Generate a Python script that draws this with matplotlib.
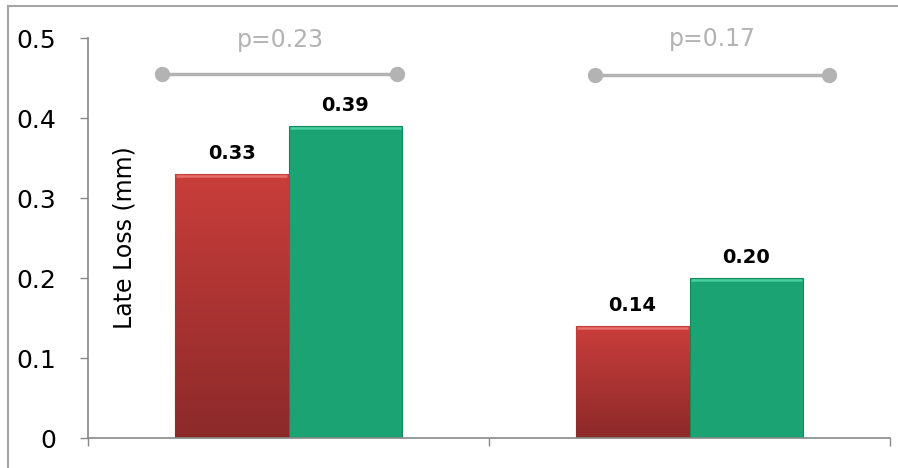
import numpy as np
import matplotlib
matplotlib.use("Agg")
import matplotlib.pyplot as plt
from matplotlib.colors import LinearSegmentedColormap
from matplotlib.lines import Line2D

# late loss per group, two bars per group
groups = ["Group A", "Group B"]
red_values = [0.33, 0.14]
green_values = [0.39, 0.20]
value_labels_red = ["0.33", "0.14"]
value_labels_green = ["0.39", "0.20"]

# p-value brackets above each group
p_labels = ["p=0.23", "p=0.17"]
p_line_start = [-0.315, 0.764]
p_line_end = [0.27, 1.348]
p_line_y = [0.455, 0.454]
p_text_x = [-0.02, 1.056]
p_text_y = [0.497, 0.499]

yticks = [0, 0.1, 0.2, 0.3, 0.4, 0.5]
ytick_labels = ["0", "0.1", "0.2", "0.3", "0.4", "0.5"]

BAR_W = 0.284
RED_TOP, RED_BOT = "#c93e3b", "#8c2a2a"
GREEN = "#1ca374"
GREEN_EDGE = "#15875e"
GREY = "#b3b3b3"

fig = plt.figure(figsize=(8.98, 4.68), dpi=100)
ax = fig.add_axes([88 / 898, 30 / 468, 802 / 898, 400 / 468])

x = np.arange(len(groups))
red_bars = ax.bar(x - BAR_W / 2, red_values, BAR_W, color=RED_TOP,
                  edgecolor="#7a2626", linewidth=0.8, zorder=2)
green_bars = ax.bar(x + BAR_W / 2, green_values, BAR_W, color=GREEN,
                    edgecolor=GREEN_EDGE, linewidth=0.8, zorder=2)

# vertical gradient on the red bars
red_cmap = LinearSegmentedColormap.from_list("redgrad", [RED_BOT, RED_TOP])
grad = np.linspace(0, 1, 256).reshape(-1, 1)
for bar in red_bars:
    bx, by = bar.get_x(), bar.get_y()
    bw, bh = bar.get_width(), bar.get_height()
    im = ax.imshow(grad, cmap=red_cmap, origin="lower", aspect="auto",
                   extent=[bx, bx + bw, by, by + bh], zorder=2.1)
    im.set_clip_path(bar)

# light bevel along the top of each bar
for bars, hl in ((red_bars, "#e4706b"), (green_bars, "#48d09f")):
    for bar in bars:
        top = bar.get_y() + bar.get_height()
        ax.plot([bar.get_x() + 0.004, bar.get_x() + bar.get_width() - 0.004],
                [top - 0.002, top - 0.002], color=hl, lw=1.8,
                solid_capstyle="butt", zorder=3)

for bar, lab in zip(red_bars, value_labels_red):
    ax.annotate(lab, (bar.get_x() + bar.get_width() / 2, bar.get_height()),
                xytext=(0, 8), textcoords="offset points", ha="center",
                va="bottom", fontsize=14, fontweight="bold", color="black")
for bar, lab in zip(green_bars, value_labels_green):
    ax.annotate(lab, (bar.get_x() + bar.get_width() / 2, bar.get_height()),
                xytext=(0, 8), textcoords="offset points", ha="center",
                va="bottom", fontsize=14, fontweight="bold", color="black")

for x0, x1, yl, tx, ty, lab in zip(p_line_start, p_line_end, p_line_y,
                                   p_text_x, p_text_y, p_labels):
    ax.plot([x0, x1], [yl, yl], color=GREY, lw=2.5, marker="o",
            markersize=10, clip_on=False, zorder=3)
    ax.text(tx, ty, lab, ha="center", va="center", fontsize=17,
            color=GREY, clip_on=False)

ax.text(-0.41, 0.25, "Late Loss (mm)", rotation=90, ha="center",
        va="center", fontsize=17, color="black")

ax.set_xlim(-0.5, 1.5)
ax.set_ylim(0, 0.5)
ax.set_xticks([-0.5, 0.5, 1.5])
ax.set_xticklabels([])
ax.set_yticks(yticks)
ax.set_yticklabels(ytick_labels, fontsize=18)
ax.tick_params(axis="y", length=6, width=1, color="#888888", pad=17)
ax.tick_params(axis="x", length=6, width=1, color="#888888")
for side in ("top", "right"):
    ax.spines[side].set_visible(False)
for side in ("left", "bottom"):
    ax.spines[side].set_color("#888888")
    ax.spines[side].set_linewidth(1.2)

# outer frame lines (top and left only)
fig.add_artist(Line2D([8 / 898, 1.0], [1 - 6 / 468, 1 - 6 / 468],
                      color="#a6a6a6", lw=1.5, transform=fig.transFigure))
fig.add_artist(Line2D([8 / 898, 8 / 898], [0, 1 - 6 / 468],
                      color="#a6a6a6", lw=1.5, transform=fig.transFigure))

fig.savefig("out.png", dpi=100)
